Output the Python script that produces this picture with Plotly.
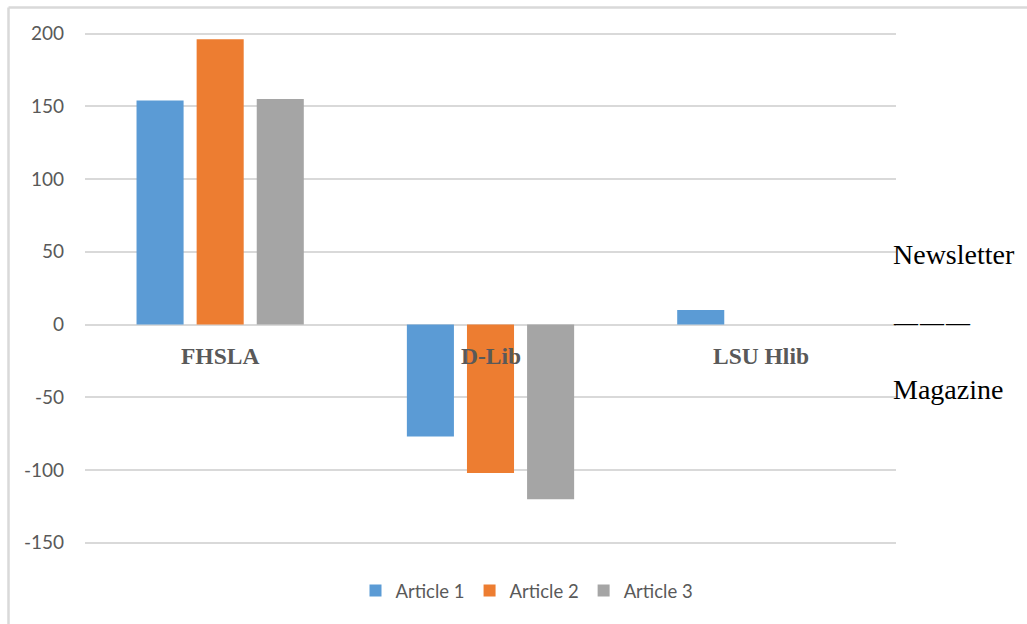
import plotly.graph_objects as go

categories = ["FHSLA", "D-Lib", "LSU Hlib"]
article1 = [154, -77, 10]
article2 = [196, -102, None]
article3 = [155, -120, None]
series_names = ["Article 1", "Article 2", "Article 3"]
colors = ["#5B9BD5", "#ED7D31", "#A5A5A5"]
y_ticks = [-150, -100, -50, 0, 50, 100, 150, 200]
side_labels = ["Newsletter", "—\u200a—\u200a—", "Magazine"]

fig = go.Figure()
for name, vals, col in zip(series_names, [article1, article2, article3], colors):
    fig.add_trace(go.Bar(x=categories, y=vals, name=name, marker=dict(color=col, line=dict(width=0))))

W, H = 1027, 624
ml, mr, mt, mb = 85, 131, 19, 23
pw, ph = W - ml - mr, H - mt - mb

def px(xp):
    return (xp - ml) / pw

def py(yp):
    return (H - mb - yp) / ph

annotations = []
for c in categories:
    annotations.append(dict(x=c, y=0, xref="x", yref="y", text="<b>" + c + "</b>", showarrow=False,
                            yshift=-31, font=dict(family="Liberation Serif", size=23.5, color="#595959"),
                            xanchor="center", yanchor="middle"))

for txt, yp, fs in zip(side_labels, [254, 322, 389], [28, 24, 28]):
    annotations.append(dict(x=px(891), y=py(yp), xref="paper", yref="paper", text=txt, showarrow=False,
                            xanchor="left", yanchor="middle",
                            font=dict(family="Liberation Serif", size=fs, color="#000000")))

shapes = [
    dict(type="line", xref="paper", yref="paper", x0=px(8.5), x1=px(1040), y0=py(7.5), y1=py(7.5),
         line=dict(color="#d9d9d9", width=2.5)),
    dict(type="line", xref="paper", yref="paper", x0=px(8.5), x1=px(8.5), y0=py(7.5), y1=py(640),
         line=dict(color="#d9d9d9", width=2.5)),
]

fig.update_layout(
    width=W, height=H,
    margin=dict(l=ml, r=mr, t=mt, b=mb, pad=0),
    paper_bgcolor="white", plot_bgcolor="white",
    barmode="group", bargap=0.333, bargroupgap=0.217,
    font=dict(family="Lato", size=19, color="#595959"),
    xaxis=dict(type="category", range=[-0.5, 2.5], showticklabels=False, showgrid=False,
               zeroline=False, showline=False, ticks=""),
    yaxis=dict(range=[-190, 210], tickvals=y_ticks, ticktext=[str(v) for v in y_ticks],
               showgrid=True, gridcolor="#d9d9d9", gridwidth=1.5,
               zeroline=True, zerolinecolor="#d9d9d9", zerolinewidth=1.5,
               showline=False, ticks="", ticklabelstandoff=20,
               tickfont=dict(family="Lato", size=19, color="#595959")),
    legend=dict(orientation="h", x=px(527), xanchor="center", y=py(591), yanchor="middle",
                font=dict(family="Lato", size=18.5, color="#595959"), bgcolor="rgba(0,0,0,0)",
                itemwidth=30, traceorder="normal"),
    annotations=annotations,
    shapes=shapes,
)

fig.write_html("out.html")
